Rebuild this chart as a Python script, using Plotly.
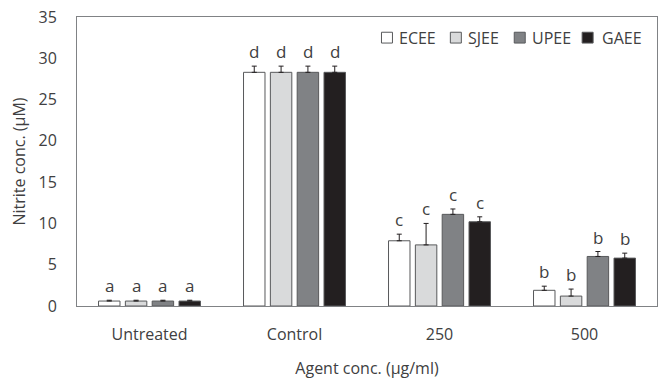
import plotly.graph_objects as go

categories = ["Untreated", "Control", "250", "500"]
series_names = ["ECEE", "SJEE", "UPEE", "GAEE"]
ecee = [0.6, 28.3, 7.9, 1.9]
sjee = [0.6, 28.3, 7.4, 1.2]
upee = [0.6, 28.3, 11.1, 6.0]
gaee = [0.6, 28.3, 10.2, 5.8]
ecee_err = [0.1, 0.75, 0.8, 0.5]
sjee_err = [0.1, 0.75, 2.6, 0.85]
upee_err = [0.1, 0.75, 0.65, 0.6]
gaee_err = [0.1, 0.75, 0.6, 0.6]
ecee_lbl = ["a", "d", "c", "b"]
sjee_lbl = ["a", "d", "c", "b"]
upee_lbl = ["a", "d", "c", "b"]
gaee_lbl = ["a", "d", "c", "b"]
y_ticks = [0, 5, 10, 15, 20, 25, 30, 35]

colors = ["#ffffff", "#d9dadb", "#808285", "#231f20"]
values = [ecee, sjee, upee, gaee]
errs = [ecee_err, sjee_err, upee_err, gaee_err]
lbls = [ecee_lbl, sjee_lbl, upee_lbl, gaee_lbl]

FONT = "Open Sans, DejaVu Sans, sans-serif"
TXT = "#404041"
EDGE = "#58595b"

W, H = 664, 381
L, R, T, B = 77, 6, 12, 75
PW, PH = W - L - R, H - T - B

fig = go.Figure()
for name, v, e, c in zip(series_names, values, errs, colors):
    fig.add_trace(go.Bar(
        name=name, x=categories, y=v, showlegend=False,
        marker=dict(color=c, line=dict(color=EDGE, width=1)),
        error_y=dict(type="data", array=e, arrayminus=[0] * len(e), symmetric=False,
                     color="#231f20", thickness=1, width=2.5),
    ))

# letters above error bars (x given as category index)
cat_w = PW / len(categories)
bargap = 0.26
slot = cat_w * (1 - bargap) / len(series_names)
for i, (v, e, lb) in enumerate(zip(values, errs, lbls)):
    shift = (i - (len(series_names) - 1) / 2) * slot
    for j, (vv, ee, t) in enumerate(zip(v, e, lb)):
        fig.add_annotation(x=j, y=vv + ee, text=t, showarrow=False, xshift=shift,
                           yanchor="bottom", yshift=1, font=dict(size=17, color=TXT, family=FONT))

# legend drawn as swatches + text (compact spacing like the reference)
sym_left_px = [305, 374, 438, 506]   # px from plot-area left
txt_left_px = [321, 390, 454, 524]
sym_size = 11
legend_mid_px = 21                   # px below plot-area top
for name, c, sx, tx in zip(series_names, colors, sym_left_px, txt_left_px):
    fig.add_shape(type="rect", xref="paper", yref="paper",
                  x0=sx / PW, x1=(sx + sym_size) / PW,
                  y0=1 - (legend_mid_px + sym_size / 2) / PH, y1=1 - (legend_mid_px - sym_size / 2) / PH,
                  fillcolor=c, line=dict(color=EDGE, width=1))
    fig.add_annotation(xref="paper", yref="paper", x=tx / PW, y=1 - legend_mid_px / PH,
                       xanchor="left", yanchor="middle", text=name, showarrow=False,
                       font=dict(size=16, color=TXT, family=FONT))

fig.update_layout(
    width=W, height=H,
    margin=dict(l=L, r=R, t=T, b=B),
    paper_bgcolor="white", plot_bgcolor="white",
    barmode="group", bargap=bargap, bargroupgap=0.2,
    font=dict(family=FONT, size=16, color=TXT),
    showlegend=False,
    xaxis=dict(type="category", categoryorder="array", categoryarray=categories,
               range=[-0.5, len(categories) - 0.5],
               showline=True, linecolor="#808285", linewidth=1, mirror=True,
               ticks="outside", ticklen=14, tickcolor="rgba(0,0,0,0)",
               title=dict(text="Agent conc. (µg/ml)", standoff=18, font=dict(size=16)),
               tickfont=dict(size=16)),
    yaxis=dict(range=[0, 35], tickvals=y_ticks, showline=True, linecolor="#808285", linewidth=1,
               mirror=True, showgrid=False, zeroline=False,
               ticks="outside", ticklen=16, tickcolor="rgba(0,0,0,0)",
               title=dict(text="Nitrite conc. (µM)", standoff=8, font=dict(size=16)),
               tickfont=dict(size=16)),
)
fig.write_html("out.html", config={"displayModeBar": False},
               post_script="document.body.style.margin='0';")
